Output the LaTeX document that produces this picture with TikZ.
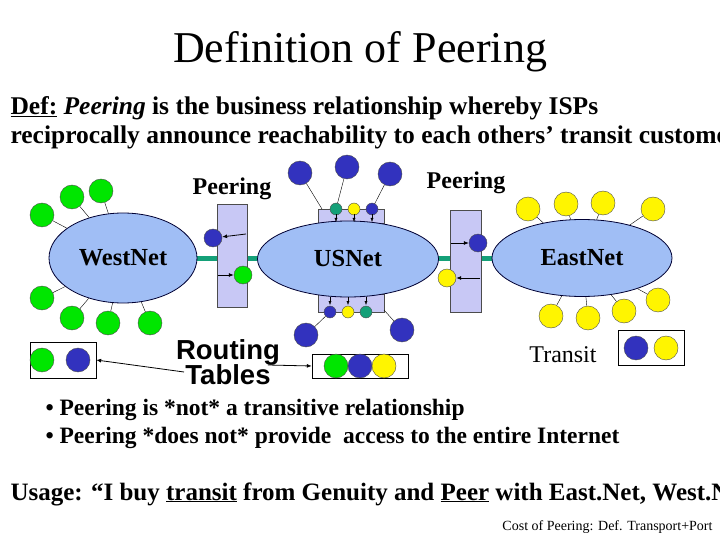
\documentclass[tikz,border=0pt]{standalone}
\usepackage{fontspec}
\setmainfont{Liberation Serif}
\setsansfont{Liberation Sans}
\usetikzlibrary{arrows.meta,shapes.geometric}
\definecolor{cloud}{RGB}{160,190,245}
\definecolor{boxc}{RGB}{200,200,245}
\definecolor{bl}{RGB}{50,50,190}
\definecolor{gr}{RGB}{0,230,0}
\definecolor{ye}{RGB}{255,245,0}
\definecolor{te}{RGB}{20,160,120}
\tikzset{
 net/.style={ellipse,draw=black!80!blue,thick,fill=cloud,font=\bfseries\fontsize{24.5}{26}\selectfont},
 pbox/.style={draw=black!70,fill=boxc},
 dot/.style={circle,draw=black!70,inner sep=0pt,minimum size=#1},
 big/.style={dot=24pt},
 med/.style={dot=18pt},
 sm/.style={dot=12pt},
 arr/.style={-{Latex[length=5pt,width=4pt]},thick},
 sarr/.style={-{Latex[length=4pt,width=3pt]}},
 lnk/.style={draw=black,thin},
 rt/.style={draw=black,fill=white},
}
\begin{document}
\begin{tikzpicture}[x=1pt,y=-1pt]
\useasboundingbox (0,0) rectangle (720,540);
\node (title) at (360,52) {\fontsize{44}{48}\selectfont Definition of Peering};
\node[anchor=west,font=\bfseries\fontsize{25.5}{28}\selectfont] (d1) at (7,108) {\underline{Def:} \textit{Peering} is the business relationship whereby ISPs};
\node[anchor=west,font=\bfseries\fontsize{25.5}{28}\selectfont] (d2) at (7,137) {reciprocally announce reachability to each others’ transit customers.};
% teal links
\draw[te,line width=5pt] (190,258) -- (500,258);
% peering boxes
\node[pbox,minimum width=30pt,minimum height=103pt] (pl) at (232,256) {};
\node[pbox,minimum width=31pt,minimum height=102pt] (pr) at (465.5,261) {};
\node[pbox,minimum width=66pt,minimum height=14pt] (ut) at (351,216) {};
\node[pbox,minimum width=66pt,minimum height=18pt] (ub) at (351,303) {};
% nets
\node[net,minimum width=148pt,minimum height=90pt] (west) at (123,258) {WestNet};
\node[net,minimum width=181pt,minimum height=76pt] (us) at (348,259) {USNet};
\node[net,minimum width=180pt,minimum height=77pt] (east) at (582,258) {EastNet};
% peering labels
\node[font=\bfseries\fontsize{24}{26}\selectfont] (pll) at (232,189) {Peering};
\node[font=\bfseries\fontsize{24}{26}\selectfont] (prl) at (466,183) {Peering};
% USNet small dots
\node[sm,fill=te] (t1) at (336,209) {};
\node[sm,fill=ye] (t2) at (354,209) {};
\node[sm,fill=bl] (t3) at (372,209) {};
\node[sm,fill=bl] (b1) at (330,312) {};
\node[sm,fill=ye] (b2) at (348,312) {};
\node[sm,fill=te] (b3) at (366,312) {};
\foreach \x in {336,354,372}{\draw[sarr] (\x,214) -- (\x,222);}
\foreach \x in {330,348,366}{\draw[sarr] (\x,297) -- (\x,305);}
\node[big,fill=bl] (c1) at (300,173) {};
\node[big,fill=bl] (c2) at (347,167) {};
\node[big,fill=bl] (c3) at (390,174) {};
\node[big,fill=bl] (c4) at (306,335) {};
\node[big,fill=bl] (c5) at (402,330) {};
\draw[lnk] (c1) -- (322,209); \draw[lnk] (c2) -- (t1); \draw[lnk] (c3) -- (t3);
\draw[lnk] (c4) -- (b1); \draw[lnk] (c5) -- (384,310);
% peering box dots
\node[med,fill=bl] (pb1) at (213,238) {};
\node[med,fill=gr] (pb2) at (243,275) {};
\draw[arr] (246,234) -- (pb1);
\draw[arr] (218,275) -- (pb2);
\node[med,fill=bl] (pb3) at (478,243) {};
\node[med,fill=ye] (pb4) at (447,278) {};
\draw[arr] (451,243) -- (pb3);
\draw[arr] (480,278) -- (pb4);
% customers
\foreach \n/\x/\y in {g1/42/215,g2/72/197,g3/101/191,g4/42/298,g5/72/318,g6/108/323,g7/150/323}{
 \node[big,fill=gr] (\n) at (\x,\y) {};
 \draw[lnk] (\n) -- (west);}
\foreach \n/\x/\y in {y1/528/209,y2/566/204,y3/603/203,y4/653/209,y5/551/316,y6/588/318,y7/624/311,y8/658/300}{
 \node[big,fill=ye] (\n) at (\x,\y) {};
 \draw[lnk] (\n) -- (east);}
% routing tables
\node[rt,minimum width=66pt,minimum height=36pt] (rl) at (63,360) {};
\node[big,fill=gr] (rl1) at (42,360) {};
\node[big,fill=bl] (rl2) at (78,360) {};
\node[rt,minimum width=96pt,minimum height=24pt] (rm) at (360,366) {};
\node[big,fill=gr] (rm1) at (336,366) {};
\node[big,fill=bl] (rm2) at (360,366) {};
\node[big,fill=ye] (rm3) at (384,366) {};
\node[rt,minimum width=66pt,minimum height=35pt] (rr) at (651,348) {};
\node[big,fill=bl] (rr1) at (636,348) {};
\node[big,fill=ye] (rr2) at (666,348) {};
\node[font=\sffamily\bfseries\fontsize{27.5}{30}\selectfont,align=center] (rtl) at (228,362) {Routing\\[-5pt]Tables};
\draw[arr] (184,372) -- (rl.east);
\draw[arr] (268,365) -- (rm.west);
\node[font=\fontsize{24}{26}\selectfont] (tr) at (563,355) {Transit};
% bullets
\node[anchor=west,font=\bfseries\fontsize{23.5}{26}\selectfont] (bu1) at (42,410) {• Peering is *not* a transitive relationship};
\node[anchor=west,font=\bfseries\fontsize{23.5}{26}\selectfont] (bu2) at (42,438) {• Peering *does not* provide\ \ access to the entire Internet};
\node[anchor=west,font=\bfseries\fontsize{25}{28}\selectfont] (us2) at (7,494) {Usage: “I buy \underline{transit} from Genuity and \underline{Peer} with East.Net, West.Net.”};
\node[anchor=east,font=\fontsize{14}{16}\selectfont] (ft) at (716,527) {Cost of Peering: Def. Transport+Port};
\end{tikzpicture}
\end{document}
